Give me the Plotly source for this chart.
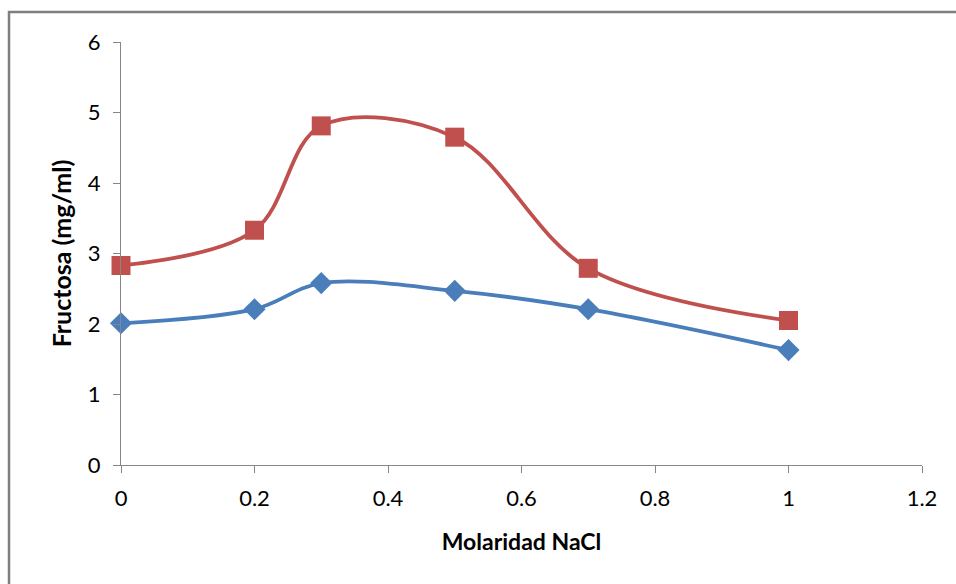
import plotly.graph_objects as go

# NaCl molarity (M) and fructose concentration (mg/ml)
molaridad = [0, 0.2, 0.3, 0.5, 0.7, 1.0]
serie_azul = [2.01, 2.21, 2.58, 2.47, 2.21, 1.63]
serie_roja = [2.83, 3.33, 4.81, 4.65, 2.79, 2.05]

x_ticks = [0, 0.2, 0.4, 0.6, 0.8, 1, 1.2]
x_labels = ["0", "0.2", "0.4", "0.6", "0.8", "1", "1.2"]
y_ticks = [0, 1, 2, 3, 4, 5, 6]

FONT = "Lato, 'Open Sans', sans-serif"
AXIS_GRAY = "#868686"

fig = go.Figure()
fig.add_trace(go.Scatter(
    x=molaridad, y=serie_azul, mode="lines+markers",
    line=dict(color="#4A7EBB", width=3.8, shape="spline", smoothing=1.0),
    marker=dict(symbol="diamond", size=17, color="#4A7EBB"),
    cliponaxis=False, showlegend=False,
))
fig.add_trace(go.Scatter(
    x=molaridad, y=serie_roja, mode="lines+markers",
    line=dict(color="#C0504D", width=3.8, shape="spline", smoothing=1.0),
    marker=dict(symbol="square", size=19, color="#C0504D"),
    cliponaxis=False, showlegend=False,
))

L, R, T, B = 121, 34, 42, 119
W, H = 956, 584
pw, ph = W - L - R, H - T - B

def px_x(px):
    return (px - L) / pw

def px_y(py):
    return (H - B - py) / ph

# chart frame (extends past the right and bottom edges)
fig.add_shape(type="rect", xref="paper", yref="paper",
              x0=px_x(9), y0=px_y(600), x1=px_x(980), y1=px_y(12),
              line=dict(color="#7F7F7F", width=2.5), fillcolor="rgba(0,0,0,0)",
              layer="below")

fig.update_layout(
    width=W, height=H,
    margin=dict(l=L, r=R, t=T, b=B, autoexpand=False),
    paper_bgcolor="white", plot_bgcolor="white",
    font=dict(family=FONT, color="#000000"),
    xaxis=dict(
        range=[0, 1.2], tickvals=x_ticks, ticktext=x_labels,
        showgrid=False, zeroline=False, showline=True,
        linecolor=AXIS_GRAY, linewidth=1.3,
        ticks="outside", ticklen=7, tickcolor=AXIS_GRAY, tickwidth=1.3,
        tickfont=dict(size=22, family=FONT), ticklabelstandoff=6,
        title=dict(text="<b>Molaridad NaCl</b>", font=dict(size=23, family=FONT), standoff=24),
    ),
    yaxis=dict(
        range=[0, 6], tickvals=y_ticks,
        showgrid=False, zeroline=False, showline=True,
        linecolor=AXIS_GRAY, linewidth=1.3,
        ticks="outside", ticklen=7, tickcolor=AXIS_GRAY, tickwidth=1.3,
        tickfont=dict(size=22, family=FONT), ticklabelstandoff=8,
        title=dict(text="<b>Fructosa (mg/ml)</b>", font=dict(size=25, family=FONT), standoff=8),
    ),
)

fig.write_html("out.html")
